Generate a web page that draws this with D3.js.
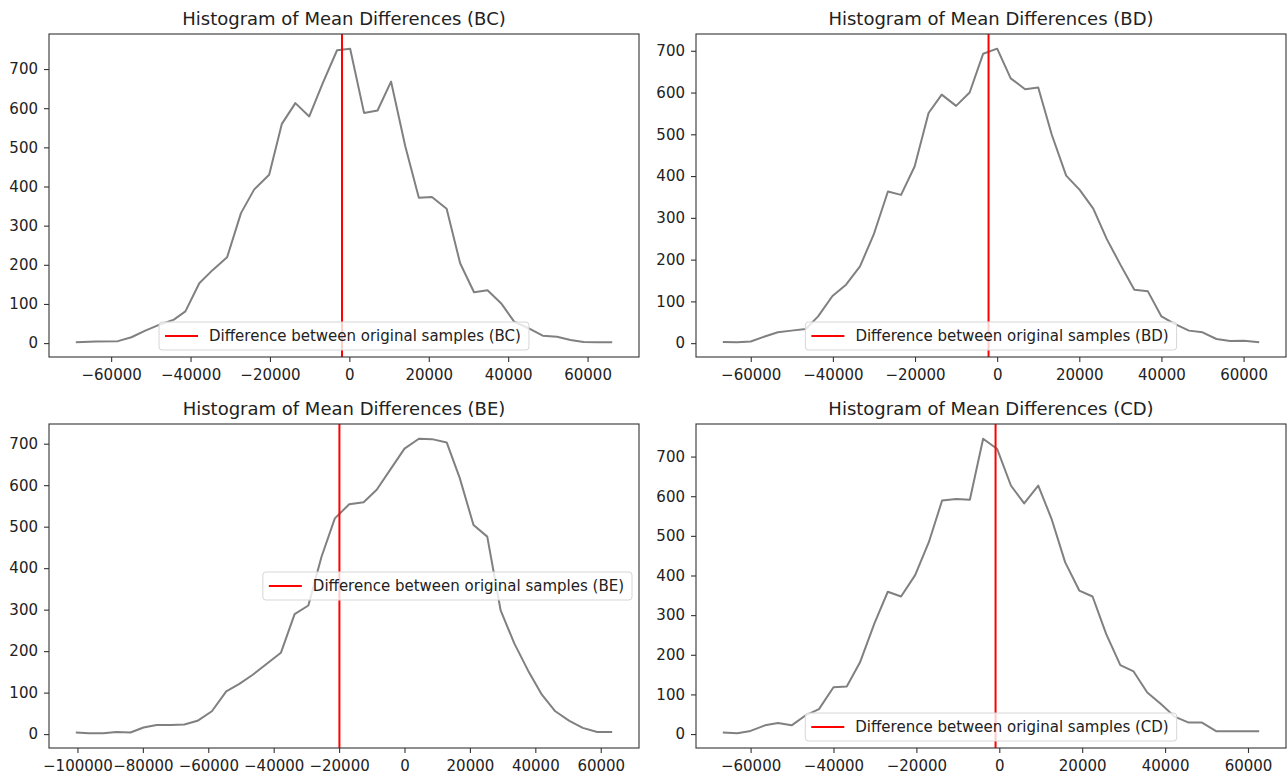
<!DOCTYPE html>
<html>
<head>
<meta charset="utf-8">
<script src="https://cdn.jsdelivr.net/npm/d3@7"></script>
<style>
  body { margin: 0; background: #fff; }
  text { font-family: "DejaVu Sans", sans-serif; }
</style>
</head>
<body>
<svg id="chart" width="1288" height="779"></svg>
<script>
// bin centres and counts, one pair of arrays per panel
const bcX = [-68900, -63800, -58300, -54900, -51400, -47800, -44200, -41300, -37800, -34400,
  -30800, -27300, -24000, -20200, -17000, -13600, -10100, -6700, -3100, 200,
  3700, 7100, 10500, 14100, 17500, 20800, 24500, 27900, 31400, 34800,
  38200, 41500, 45100, 48700, 52300, 55700, 59000, 62600, 66200];
const bcY = [2, 4, 5, 15, 32, 47, 60, 81, 153, 187,
  219, 332, 392, 430, 560, 613, 579, 664, 748, 752,
  588, 594, 668, 502, 371, 373, 343, 204, 130, 135,
  102, 55, 38, 19, 16, 8, 3, 2, 2];

const bdX = [-66800, -63300, -60000, -56600, -53400, -50100, -46600, -43600, -40100, -36800,
  -33400, -30100, -26600, -23400, -20100, -16700, -13500, -10000, -6700, -3400,
  0, 3300, 6800, 10000, 13300, 16800, 20100, 23400, 26700, 30000,
  33400, 36700, 40000, 43200, 46700, 50000, 53400, 56700, 60100, 63800];
const bdY = [3, 2, 4, 16, 26, 30, 34, 64, 113, 140,
  184, 259, 363, 355, 423, 551, 595, 568, 600, 693,
  705, 634, 608, 612, 499, 401, 367, 322, 249, 188,
  128, 124, 64, 46, 30, 26, 10, 5, 6, 2];

const beX = [-100500, -96500, -92100, -88100, -83800, -79800, -75800, -71400, -67300, -63300,
  -58900, -54500, -50500, -46400, -42200, -37800, -33600, -29400, -25400, -21300,
  -16900, -12500, -8500, -4400, 0, 4400, 8400, 12900, 16900, 21100,
  25300, 29400, 33600, 37800, 42000, 46100, 50400, 54500, 58900, 63500];
const beY = [4, 2, 2, 5, 4, 16, 22, 22, 23, 32,
  55, 103, 121, 143, 169, 196, 289, 310, 427, 520,
  554, 559, 589, 637, 688, 712, 711, 703, 617, 504,
  476, 298, 218, 153, 95, 55, 32, 15, 5, 5];

const cdX = [-66700, -63200, -60000, -56500, -53400, -50100, -46600, -43500, -40000, -36800,
  -33600, -30100, -26900, -23700, -20300, -17000, -13800, -10400, -7100, -3900,
  -500, 2800, 6000, 9400, 12600, 15900, 19300, 22500, 25800, 29200,
  32400, 35700, 39000, 42300, 45700, 48900, 52400, 55600, 59100, 62700];
const cdY = [4, 2, 8, 22, 28, 22, 48, 63, 118, 120,
  181, 280, 359, 347, 401, 484, 589, 593, 591, 745,
  719, 627, 582, 627, 543, 433, 362, 347, 252, 174,
  158, 105, 76, 44, 29, 29, 7, 7, 7, 7];

// observed difference between the original samples
const refLines = { BC: -1850, BD: -2100, BE: -19900, CD: -900 };

const pairNames = ["BC", "BD", "BE", "CD"];
const xTicks60 = [-60000, -40000, -20000, 0, 20000, 40000, 60000];
const xTicks100 = [-100000, -80000, -60000, -40000, -20000, 0, 20000, 40000, 60000];
const yTicks = [0, 100, 200, 300, 400, 500, 600, 700];

const panels = [
  { name: "BC", xs: bcX, ys: bcY, xTicks: xTicks60, legend: "lower center" },
  { name: "BD", xs: bdX, ys: bdY, xTicks: xTicks60, legend: "lower center" },
  { name: "BE", xs: beX, ys: beY, xTicks: xTicks100, legend: "center right" },
  { name: "CD", xs: cdX, ys: cdY, xTicks: xTicks60, legend: "lower center" }
];

const cols = [{ x0: 49, x1: 639 }, { x0: 696, x1: 1286 }];
const rows = [{ y0: 34, y1: 357 }, { y0: 424, y1: 748 }];
const fmt = d3.format("d");

// matplotlib style 5% margin
function padded(ext) {
  const m = (ext[1] - ext[0]) * 0.05;
  return [ext[0] - m, ext[1] + m];
}

const svg = d3.select("#chart");

panels.forEach(function(p, i) {
  const c = cols[i % 2], r = rows[Math.floor(i / 2)];
  const x = d3.scaleLinear().domain(padded(d3.extent(p.xs))).range([c.x0, c.x1]);
  const y = d3.scaleLinear().domain(padded(d3.extent(p.ys))).range([r.y1, r.y0]);
  const g = svg.append("g");

  // x axis
  const ax = g.append("g")
    .attr("transform", "translate(0," + r.y1 + ")")
    .call(d3.axisBottom(x).tickValues(p.xTicks).tickSize(5).tickPadding(7).tickFormat(fmt));
  const ay = g.append("g")
    .attr("transform", "translate(" + c.x0 + ",0)")
    .call(d3.axisLeft(y).tickValues(yTicks).tickSize(5).tickPadding(6).tickFormat(fmt));
  [ax, ay].forEach(function(a) {
    a.select(".domain").remove();
    a.selectAll(".tick line").attr("stroke", "#333").attr("stroke-width", 1.1);
    a.selectAll(".tick text").attr("fill", "#222").style("font-size", "15px")
      .style("font-family", "DejaVu Sans, sans-serif");
  });

  // data line
  const line = d3.line().x(function(d) { return x(d[0]); }).y(function(d) { return y(d[1]); });
  g.append("path")
    .datum(d3.zip(p.xs, p.ys))
    .attr("d", line)
    .attr("fill", "none")
    .attr("stroke", "#808080")
    .attr("stroke-width", 2)
    .attr("stroke-linejoin", "round");

  // reference line
  g.append("line")
    .attr("x1", x(refLines[p.name])).attr("x2", x(refLines[p.name]))
    .attr("y1", r.y0).attr("y2", r.y1)
    .attr("stroke", "#ff0000").attr("stroke-width", 2);

  // frame
  g.append("rect")
    .attr("x", c.x0).attr("y", r.y0)
    .attr("width", c.x1 - c.x0).attr("height", r.y1 - r.y0)
    .attr("fill", "none").attr("stroke", "#333").attr("stroke-width", 1.1);

  // title
  g.append("text")
    .attr("x", (c.x0 + c.x1) / 2).attr("y", r.y0 - 9)
    .attr("text-anchor", "middle")
    .attr("fill", "#222")
    .style("font-size", "18px")
    .text("Histogram of Mean Differences (" + p.name + ")");

  // legend
  const lg = g.append("g");
  const box = lg.append("rect");
  const label = lg.append("text")
    .attr("fill", "#222")
    .style("font-size", "15px")
    .text("Difference between original samples (" + p.name + ")");
  const tw = label.node().getComputedTextLength();
  const bw = 6 + 33 + 11 + tw + 8, bh = 28;
  let bx, by;
  if (p.legend === "center right") {
    bx = c.x1 - 7 - bw;
    by = (r.y0 + r.y1) / 2 - bh / 2;
  } else {
    bx = (c.x0 + c.x1) / 2 - bw / 2;
    by = r.y1 - 7 - bh;
  }
  box.attr("x", bx).attr("y", by).attr("width", bw).attr("height", bh)
    .attr("rx", 3)
    .attr("fill", "#fff").attr("fill-opacity", 0.8)
    .attr("stroke", "#d6d6d6").attr("stroke-width", 1);
  lg.append("line")
    .attr("x1", bx + 6).attr("x2", bx + 39)
    .attr("y1", by + bh / 2).attr("y2", by + bh / 2)
    .attr("stroke", "#ff0000").attr("stroke-width", 2);
  label.attr("x", bx + 50).attr("y", by + bh / 2 + 5);
});
</script>
</body>
</html>
